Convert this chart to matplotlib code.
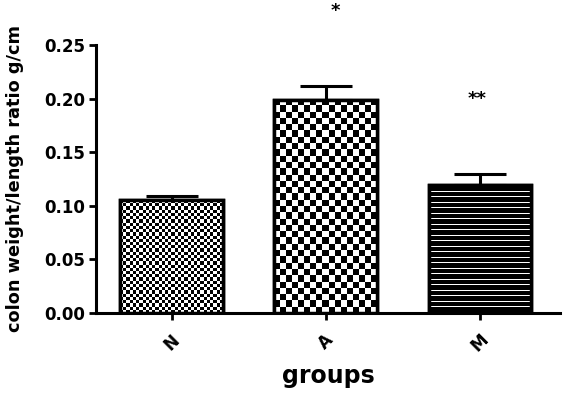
import numpy as np
import matplotlib
matplotlib.use("Agg")
import matplotlib.pyplot as plt

# datos
groups = ["N", "A", "M"]
ratio = [0.105, 0.199, 0.119]
sem = [0.004, 0.013, 0.011]
marks = ["", "*", "**"]

plt.rcParams["font.family"] = ["DejaVu Sans"]
plt.rcParams["font.weight"] = "bold"

W, H, DPI = 571, 393, 100
fig = plt.figure(figsize=(W / DPI, H / DPI), dpi=DPI)
ax = fig.add_axes([96 / W, 80 / H, 464 / W, 268 / H])

x = np.arange(len(groups))
xlim = (-0.49, 2.52)
ylim = (0, 0.25)
ax.set_xlim(*xlim)
ax.set_ylim(*ylim)

ax.errorbar(x, ratio, yerr=[np.zeros(3), sem], fmt="none", ecolor="black",
            elinewidth=2.2, capsize=19, capthick=2.2, zorder=2)
bars = ax.bar(x, ratio, width=0.665, color="white", edgecolor="black",
              linewidth=2.5, zorder=2.2)
# bordes por encima de la textura
edges = ax.bar(x, ratio, width=0.665, color="none", edgecolor="black",
               linewidth=2.5, zorder=4)

# texturas de relleno (tablero y rayas)
px_x = 464 / (xlim[1] - xlim[0])
px_y = 268 / (ylim[1] - ylim[0])


def checker(wpx, hpx, cell):
    nx = int(round(wpx / cell))
    ny = int(round(hpx / cell))
    return (np.add.outer(np.arange(ny), np.arange(nx)) % 2).astype(float)


def stripes(wpx, hpx, period):
    ny = int(round(hpx * 2))
    rows = (np.arange(ny) % period < 2).astype(float)
    return np.repeat(rows[:, None], 4, axis=1)


for i, b in enumerate(bars):
    x0, y0 = b.get_x(), b.get_y()
    w, h = b.get_width(), b.get_height()
    wpx, hpx = w * px_x, h * px_y
    if i == 0:
        tex = checker(wpx, hpx, 3.2)
    elif i == 1:
        tex = checker(wpx, hpx, 6.2)
    else:
        tex = stripes(wpx, hpx, 11)
    im = ax.imshow(tex, cmap="gray", vmin=0, vmax=1, interpolation="nearest",
                   extent=[x0, x0 + w, y0, y0 + h], aspect="auto", zorder=3)
    im.set_clip_path(b)

ax.set_xlim(*xlim)
ax.set_ylim(*ylim)

star_dx = [0, 0.06, -0.02]
for i, m in enumerate(marks):
    if m:
        top = ratio[i] + sem[i]
        ax.text(x[i] + star_dx[i], top + 0.07, m,
                ha="center", va="center", fontsize=13, clip_on=False)

ax.set_yticks(np.arange(0, 0.26, 0.05))
ax.set_yticklabels(["%.2f" % v for v in np.arange(0, 0.26, 0.05)],
                   fontsize=12, fontweight="bold")
ax.set_xticks(x)
ax.set_xticklabels(groups, rotation=45, ha="center", va="center",
                   fontsize=12, fontweight="bold")
ax.tick_params(width=2, length=5, direction="out", pad=3)
ax.tick_params(axis="x", pad=16)

for s in ["top", "right"]:
    ax.spines[s].set_visible(False)
for s in ["left", "bottom"]:
    ax.spines[s].set_linewidth(2.2)

ax.set_ylabel("colon weight/length ratio g/cm", fontsize=12.8,
              fontweight="bold", labelpad=14)
ax.set_xlabel("groups", fontsize=17, fontweight="bold", labelpad=7)

fig.savefig("out.png", dpi=DPI)
